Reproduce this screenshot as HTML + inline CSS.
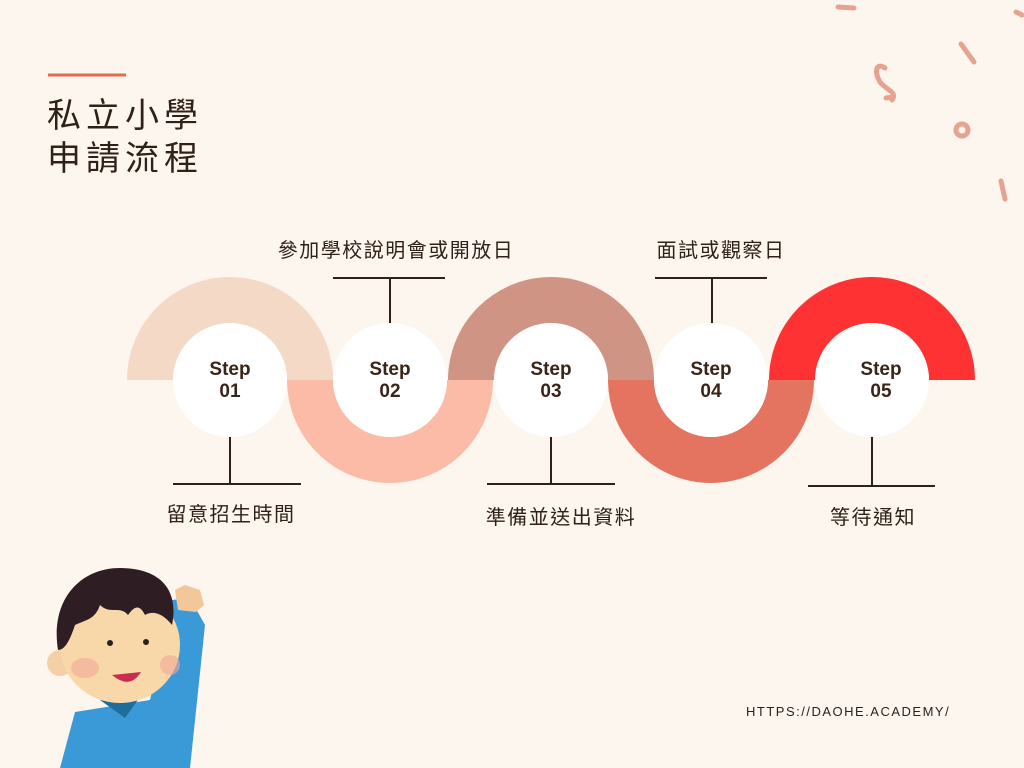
<!DOCTYPE html>
<html><head><meta charset="utf-8"><style>
body{margin:0;width:1024px;height:768px;background:#fdf6ef;overflow:hidden;font-family:"Liberation Sans","Noto Sans CJK TC",sans-serif}
</style></head><body>
<svg width="1024" height="768" xmlns="http://www.w3.org/2000/svg" style="position:absolute;left:0;top:0">
<rect width="1024" height="768" fill="#fdf6ef"/>
<line x1="48" y1="75" x2="126" y2="75" stroke="#e26a4f" stroke-width="3"/>
<text x="47" y="127" font-size="34" fill="#2f2118" letter-spacing="5" font-family="Noto Sans CJK TC,sans-serif">私立小學</text>
<text x="47" y="170" font-size="34" fill="#2f2118" letter-spacing="5" font-family="Noto Sans CJK TC,sans-serif">申請流程</text>
<g fill="none" stroke="#e6a392" stroke-width="5" stroke-linecap="round">
<path d="M838 7 L854 8"/><path d="M1016 12 L1022 15"/><path d="M961 44 L974 62"/>
<path d="M885 68 C876 62,874 72,880 82 C886 90,898 92,892 100 M886 98 L893 97"/>
<circle cx="962" cy="130" r="6"/><path d="M1001 181 L1005 199"/>
</g>
<g fill="none" stroke-width="46">
<path d="M150 380 A80 80 0 0 1 310 380" stroke="#f3d9c6"/>
<path d="M310 380 A80 80 0 0 0 470 380" stroke="#fbbba6"/>
<path d="M471 380 A80 80 0 0 1 631 380" stroke="#d09484"/>
<path d="M631 380 A80 80 0 0 0 791 380" stroke="#e4735f"/>
<path d="M792 380 A80 80 0 0 1 952 380" stroke="#fe3232"/>
</g>
<g fill="#fff"><circle cx="230" cy="380" r="57"/><circle cx="390" cy="380" r="57"/><circle cx="551" cy="380" r="57"/><circle cx="711" cy="380" r="57"/><circle cx="872" cy="380" r="57"/></g>
<g font-size="19" font-weight="bold" fill="#3a2418" text-anchor="middle">
<text x="230" y="375">Step</text><text x="230" y="397">01</text>
<text x="390" y="375">Step</text><text x="390" y="397">02</text>
<text x="551" y="375">Step</text><text x="551" y="397">03</text>
<text x="711" y="375">Step</text><text x="711" y="397">04</text>
<text x="881" y="375">Step</text><text x="881" y="397">05</text>
</g>
<g stroke="#2f2118" stroke-width="2">
<path d="M333 278 H445 M390 278 V323"/><path d="M655 278 H767 M712 278 V323"/>
<path d="M173 484 H301 M230 437 V484"/><path d="M487 484 H615 M551 437 V484"/><path d="M808 486 H935 M872 437 V486"/>
</g>
<g font-size="20" fill="#2f2118" text-anchor="middle" letter-spacing="1.5" font-family="Noto Sans CJK TC,sans-serif">
<text x="396" y="257">參加學校說明會或開放日</text>
<text x="721" y="257">面試或觀察日</text>
<text x="231" y="521">留意招生時間</text>
<text x="561" y="524">準備並送出資料</text>
<text x="873" y="524">等待通知</text>
</g>
<text x="746" y="716" font-size="13" letter-spacing="1.5" fill="#2f2118">HTTPS://DAOHE.ACADEMY/</text>
<path d="M172 600 L190 598 L205 625 L190 768 L60 768 L75 712 L150 700 Z" fill="#3a9ad8"/>
<path d="M178 610 L175 590 L185 585 L200 590 L204 605 L196 612 Z" fill="#f2c79a"/>
<path d="M100 700 L140 697 L125 718 Z" fill="#1e6d9a"/>
<circle cx="60" cy="663" r="13" fill="#f5cfa5"/>
<ellipse cx="120" cy="645" rx="60" ry="58" fill="#f8d7a9"/>
<path d="M58 650 C50 600,80 568,120 568 C155 568,180 585,172 625 C160 610,150 612,145 615 C140 605,135 605,128 615 C120 605,110 615,100 605 C95 620,85 620,75 625 C70 640,65 650,58 650 Z" fill="#2e1d22"/>
<circle cx="110" cy="643" r="3" fill="#222"/><circle cx="146" cy="642" r="3" fill="#222"/>
<path d="M112 675 Q130 690,141 672 Z" fill="#c82d4e"/>
<ellipse cx="85" cy="668" rx="14" ry="10" fill="#f3a89a" opacity="0.6"/>
<ellipse cx="170" cy="665" rx="10" ry="10" fill="#f3a89a" opacity="0.6"/>
</svg>
</body></html>
